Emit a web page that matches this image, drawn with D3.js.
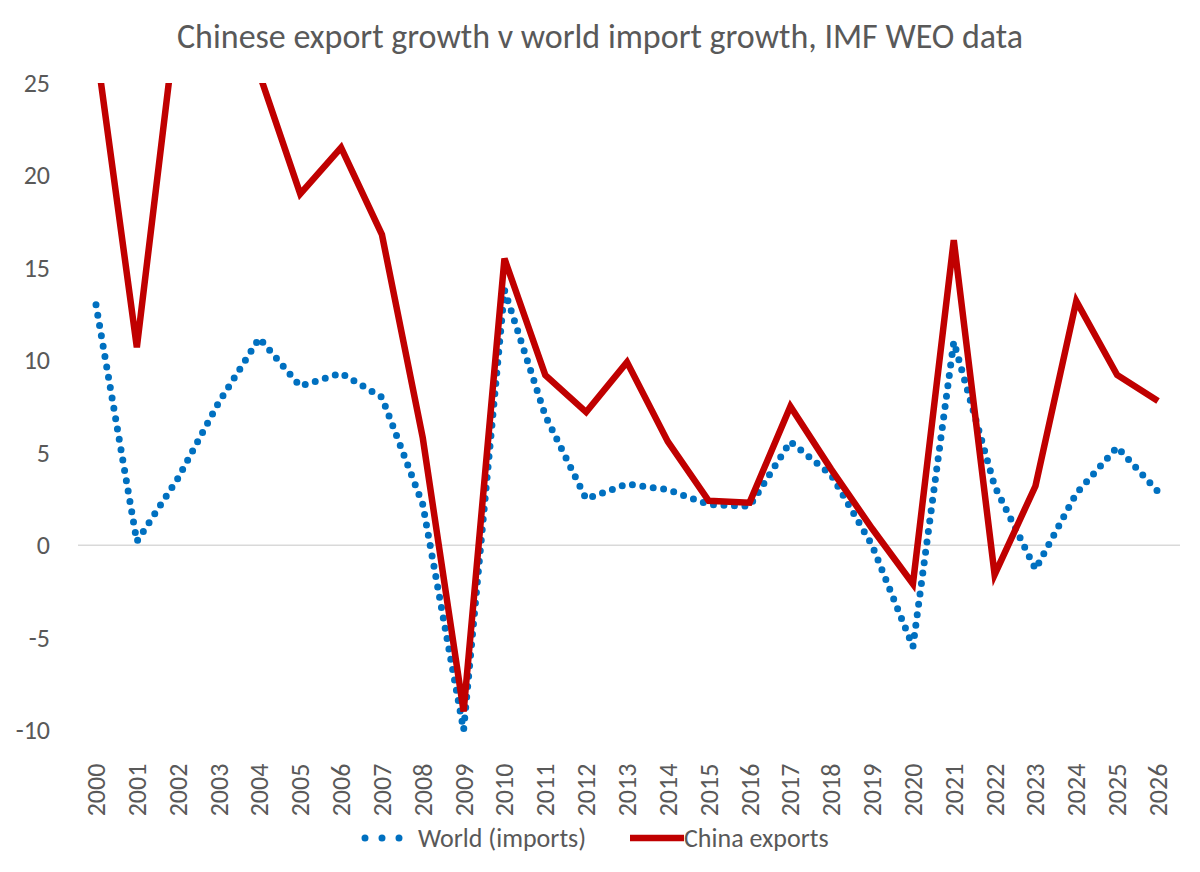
<!DOCTYPE html>
<html><head><meta charset="utf-8">
<script src="https://cdn.jsdelivr.net/npm/d3@7"></script>
<style>body{margin:0;background:#fff;font-family:Calibri,Carlito,"Liberation Sans",sans-serif}</style>
</head><body><svg id="c" width="1200" height="872"></svg>
<script>
var years = d3.range(2000, 2027);
var world = [13,0.2,3.6,7.7,11.2,8.6,9.3,8.0,2.2,-10,13.8,7.0,2.5,3.3,3.0,2.2,2.1,5.6,3.8,0.0,-5.5,11.0,3.2,-1.3,2.8,5.3,2.9];
var china = [27,10.7,29,34,25.5,19,21.5,16.8,5.8,-9,15.5,9.2,7.2,9.9,5.6,2.4,2.3,7.5,4.1,0.9,-2.1,16.5,-1.6,3.2,13.2,9.2,7.8];
var yTicks = [-10,-5,0,5,10,15,20,25];

var svg = d3.select("#c");
var x = d3.scalePoint().domain(years).range([96,1158]);
var y = d3.scaleLinear().domain([-10,25]).range([730,83]);

svg.append("text").attr("x",600).attr("y",48).attr("text-anchor","middle")
  .attr("font-size",34).attr("fill","#595959").text("Chinese export growth v world import growth, IMF WEO data");

svg.append("line").attr("x1",78).attr("x2",1180).attr("y1",y(0)).attr("y2",y(0)).attr("stroke","#d9d9d9").attr("stroke-width",1.5);

svg.selectAll(".yt").data(yTicks).enter().append("text")
  .attr("x",50).attr("y",d=>y(d)+9).attr("text-anchor","end")
  .attr("font-size",26).attr("fill","#595959").text(d=>d);

svg.selectAll(".xt").data(years).enter().append("text")
  .attr("transform",d=>"translate("+(x(d)+9)+",790) rotate(-90)")
  .attr("text-anchor","middle").attr("font-size",26).attr("fill","#595959").text(d=>d);

svg.append("clipPath").attr("id","cp").append("rect").attr("x",0).attr("y",y(25)).attr("width",1200).attr("height",700);
var line = d3.line().x((d,i)=>x(years[i])).y(d=>y(d));
svg.append("path").datum(world).attr("d",line).attr("fill","none").attr("stroke","#0070c0")
  .attr("stroke-width",7).attr("stroke-dasharray","0 10.5").attr("stroke-linecap","round");
svg.append("path").datum(china).attr("d",line).attr("fill","none").attr("stroke","#c00000")
  .attr("stroke-width",6.5).attr("stroke-linejoin","miter").attr("clip-path","url(#cp)");

var lg = svg.append("g").attr("transform","translate(0,838)");
lg.append("line").attr("x1",365).attr("x2",410).attr("y1",0).attr("y2",0).attr("stroke","#0070c0")
  .attr("stroke-width",7).attr("stroke-dasharray","0 17").attr("stroke-linecap","round");
lg.append("text").attr("x",418).attr("y",9).attr("font-size",26).attr("fill","#595959").text("World (imports)");
lg.append("line").attr("x1",630).attr("x2",684).attr("y1",0).attr("y2",0).attr("stroke","#c00000").attr("stroke-width",6.5);
lg.append("text").attr("x",684).attr("y",9).attr("font-size",26).attr("fill","#595959").text("China exports");
</script></body></html>
